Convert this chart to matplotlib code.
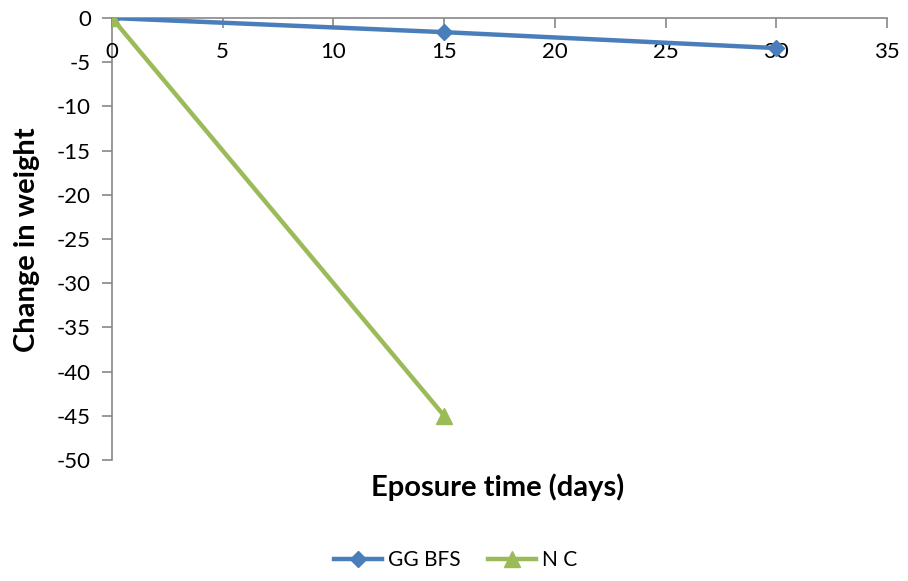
import matplotlib.pyplot as plt

plt.rcParams['font.family'] = ['Lato', 'DejaVu Sans']
plt.rcParams['axes.unicode_minus'] = False

days_ggbfs = [0, 15, 30]
weight_ggbfs = [0, -1.6, -3.4]
days_nc = [0, 15]
weight_nc = [0, -45]

x_ticks = [0, 5, 10, 15, 20, 25, 30, 35]
y_ticks = [0, -5, -10, -15, -20, -25, -30, -35, -40, -45, -50]

fig = plt.figure(figsize=(9.08, 5.81), dpi=100)
ax = fig.add_axes([0.1233, 0.2083, 0.8536, 0.7607])

ax.plot(days_ggbfs, weight_ggbfs, color='#4a7ebb', lw=3.2, marker='D',
        ms=8, label='GG BFS', zorder=3)
ax.plot(days_nc, weight_nc, color='#9bbb59', lw=3.2, marker='^',
        ms=12, label='N C', zorder=3)

ax.set_xlim(0, 35)
ax.set_ylim(-50, 0)
ax.set_xticks(x_ticks)
ax.set_yticks(y_ticks)

# x axis sits at zero, which is the top of the range
ax.spines['bottom'].set_position(('data', 0))
ax.spines['top'].set_visible(False)
ax.spines['right'].set_visible(False)
for s in ('bottom', 'left'):
    ax.spines[s].set_color('#888888')
    ax.spines[s].set_linewidth(1.2)
    ax.spines[s].set_zorder(1)

ax.tick_params(axis='x', direction='out', length=7, width=1.2, color='#888888',
               pad=10, labelsize=16)
ax.tick_params(axis='y', direction='out', length=7, width=1.2, color='#888888',
               pad=8, labelsize=16)
for lbl in ax.get_xticklabels() + ax.get_yticklabels():
    lbl.set_zorder(0)

fig.text(0.548, 1 - 487 / 581, 'Eposure time (days)', ha='center', va='center',
         fontsize=21, fontweight='bold')
fig.text(27 / 908, 1 - 240 / 581, 'Change in weight', ha='center', va='center',
         rotation=90, fontsize=21, fontweight='bold')

fig.legend(loc='center', bbox_to_anchor=(0.502, 1 - 560 / 581), ncol=2,
           frameon=False, fontsize=15, handlelength=2.3, columnspacing=1.3,
           handletextpad=0.3)

fig.savefig('out.png', dpi=100)
